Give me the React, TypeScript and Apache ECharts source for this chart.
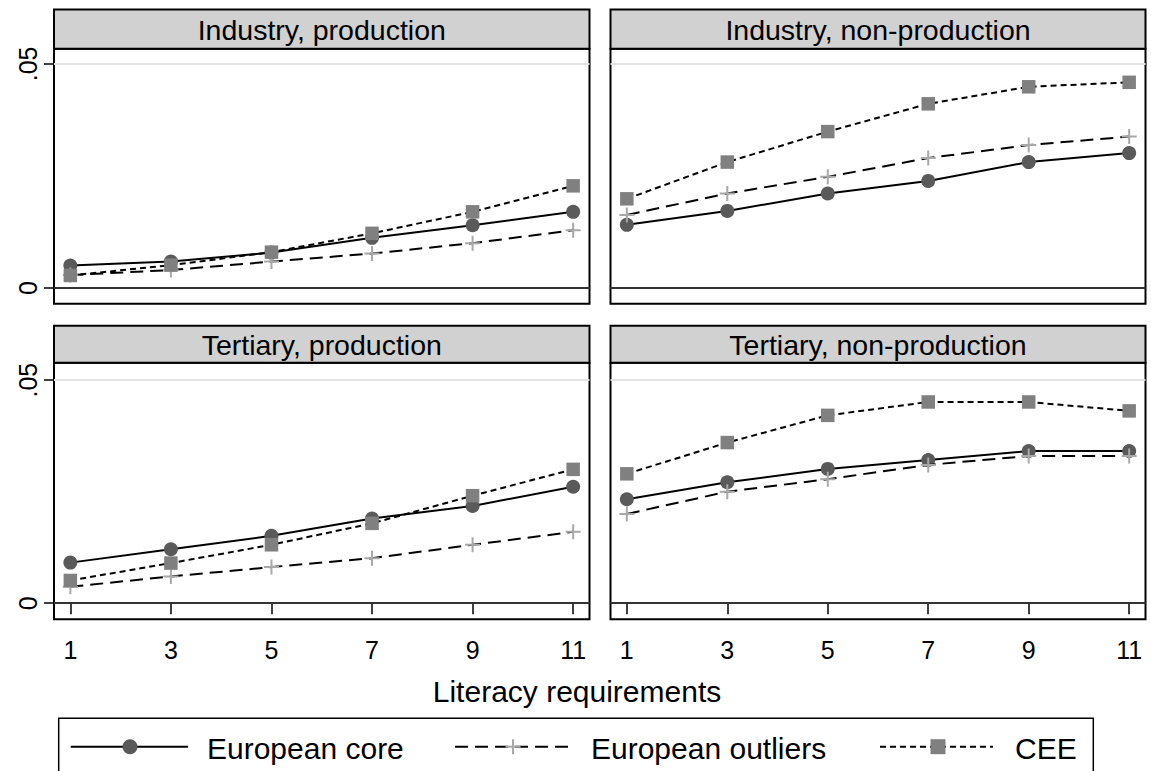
import React, { useEffect, useRef } from "react";
import * as echarts from "echarts";

// ---- data ----
const xValues = [1, 3, 5, 7, 9, 11];
const panelTitles = [
  "Industry, production",
  "Industry, non-production",
  "Tertiary, production",
  "Tertiary, non-production",
];
const seriesNames = ["European core", "European outliers", "CEE"];

const indProdCore = [0.005, 0.0059, 0.0079, 0.0112, 0.014, 0.017];
const indProdOutliers = [0.0029, 0.004, 0.0059, 0.0077, 0.01, 0.0129];
const indProdCEE = [0.0028, 0.0051, 0.008, 0.0122, 0.017, 0.0228];

const indNonCore = [0.0141, 0.0172, 0.0211, 0.0239, 0.0281, 0.0301];
const indNonOutliers = [0.0163, 0.0211, 0.0248, 0.029, 0.0319, 0.0338];
const indNonCEE = [0.0199, 0.0281, 0.0349, 0.0411, 0.0449, 0.0459];

const terProdCore = [0.0091, 0.0121, 0.0151, 0.019, 0.0218, 0.0261];
const terProdOutliers = [0.0037, 0.006, 0.0081, 0.0101, 0.0131, 0.016];
const terProdCEE = [0.0051, 0.009, 0.0131, 0.0179, 0.0241, 0.03];

const terNonCore = [0.0233, 0.0271, 0.0301, 0.0321, 0.0341, 0.0341];
const terNonOutliers = [0.02, 0.025, 0.0278, 0.031, 0.033, 0.033];
const terNonCEE = [0.029, 0.036, 0.0421, 0.0451, 0.0451, 0.0431];

const yTickValues = [0, 0.05];
const xAxisTitle = "Literacy requirements";

const panelData = [
  [indProdCore, indProdOutliers, indProdCEE],
  [indNonCore, indNonOutliers, indNonCEE],
  [terProdCore, terProdOutliers, terProdCEE],
  [terNonCore, terNonOutliers, terNonCEE],
];

const FONT = "'Liberation Sans', Arial, Helvetica, sans-serif";
const PLUS = "path://M6.5,0H8.5V6.5H15V8.5H8.5V15H6.5V8.5H0V6.5H6.5Z";

const seriesStyles = [
  { symbol: "circle", symbolSize: 14, color: "#5a5a5a", dash: "solid" as any },
  { symbol: PLUS, symbolSize: 15, color: "#a8a8a8", dash: [13, 7] as any },
  { symbol: "rect", symbolSize: 13.5, color: "#808080", dash: [6, 4] as any },
];

// layout
const gridsLayout = [
  { left: 54, top: 48.7, width: 535.5, height: 255, stripTop: 9.5 },
  { left: 610.5, top: 48.7, width: 535, height: 255, stripTop: 9.5 },
  { left: 54, top: 362.7, width: 535.5, height: 256.6, stripTop: 325.7 },
  { left: 610.5, top: 362.7, width: 535, height: 256.6, stripTop: 325.7 },
];

export default function App() {
  const ref = useRef<HTMLDivElement>(null);
  useEffect(() => {
    if (!ref.current) return;
    const chart = echarts.init(ref.current, undefined, { renderer: "svg" });

    const grid = gridsLayout.map((g) => ({
      left: g.left,
      top: g.top,
      width: g.width,
      height: g.height,
      show: true,
      borderColor: "#000",
      borderWidth: 2,
      backgroundColor: "#fff",
      containLabel: false,
    }));

    const xAxis = gridsLayout.map((g, i) => {
      const bottomRow = i >= 2;
      return {
        type: "value",
        gridIndex: i,
        min: 0.675,
        max: 11.325,
        axisLine: { show: false },
        splitLine: { show: false },
        axisTick: {
          show: bottomRow,
          customValues: xValues,
          length: 11,
          lineStyle: { color: "#000", width: 1.5 },
        },
        axisLabel: {
          show: bottomRow,
          customValues: xValues,
          margin: 18,
          fontSize: 25,
          color: "#000",
          fontFamily: FONT,
        },
      };
    });

    const yAxis = gridsLayout.map((g, i) => {
      const leftCol = i % 2 === 0;
      const top = i < 2;
      return {
        type: "value",
        gridIndex: i,
        min: top ? -0.0035 : -0.0036,
        max: top ? 0.0534 : 0.0539,
        axisLine: { show: false },
        splitLine: { show: false },
        axisTick: {
          show: leftCol,
          customValues: yTickValues,
          length: 10,
          lineStyle: { color: "#000", width: 1.5 },
        },
        axisLabel: {
          show: leftCol,
          customValues: yTickValues,
          rotate: 90,
          margin: 14,
          fontSize: 25,
          color: "#000",
          fontFamily: FONT,
          formatter: (v: number) => (v === 0 ? "0" : String(v).replace(/^0/, "")),
        },
      };
    });

    const series: any[] = [];
    panelData.forEach((panel, pi) => {
      panel.forEach((vals, si) => {
        const st = seriesStyles[si];
        const s: any = {
          type: "line",
          name: seriesNames[si],
          xAxisIndex: pi,
          yAxisIndex: pi,
          data: xValues.map((x, k) => [x, vals[k]]),
          symbol: st.symbol,
          symbolSize: st.symbolSize,
          showSymbol: true,
          itemStyle: { color: st.color, borderWidth: 0 },
          lineStyle: { color: "#000", width: 2, type: st.dash },
          z: 3 + si,
          silent: true,
        };
        if (si === 0) {
          s.markLine = {
            silent: true,
            symbol: ["none", "none"],
            label: { show: false },
            z: 1,
            data: [
              { yAxis: 0.05, lineStyle: { color: "#e3e3e3", width: 2, type: "solid" } },
              { yAxis: 0, lineStyle: { color: "#333", width: 2.2, type: "solid" } },
            ],
          };
        }
        series.push(s);
      });
    });

    const graphic: any[] = [];
    gridsLayout.forEach((g, i) => {
      const h = g.top - g.stripTop;
      graphic.push({
        type: "rect",
        shape: { x: g.left, y: g.stripTop, width: g.width, height: h },
        style: { fill: "#d1d1d1", stroke: "#000", lineWidth: 2 },
        silent: true,
      });
      graphic.push({
        type: "text",
        x: g.left + g.width / 2,
        y: g.stripTop + h / 2 + 0.5,
        style: {
          text: panelTitles[i],
          fill: "#000",
          font: `28.5px ${FONT}`,
          textAlign: "center",
          textVerticalAlign: "middle",
        },
        silent: true,
      });
    });

    // x axis title
    graphic.push({
      type: "text",
      x: 577,
      y: 691,
      style: {
        text: xAxisTitle,
        fill: "#000",
        font: `30px ${FONT}`,
        textAlign: "center",
        textVerticalAlign: "middle",
      },
      silent: true,
    });

    // legend
    const ly = 746.7;
    graphic.push({
      type: "rect",
      shape: { x: 58.7, y: 718.3, width: 1034.6, height: 80 },
      style: { fill: "#fff", stroke: "#000", lineWidth: 1.5 },
      silent: true,
    });
    const legendItems = [
      { x1: 70.7, x2: 188, mx: 130, tx: 207 },
      { x1: 455, x2: 572, mx: 513, tx: 591 },
      { x1: 880, x2: 993, mx: 938, tx: 1015 },
    ];
    legendItems.forEach((it, i) => {
      const st = seriesStyles[i];
      graphic.push({
        type: "line",
        shape: { x1: it.x1, y1: ly, x2: it.x2, y2: ly },
        style: {
          stroke: "#000",
          lineWidth: 2,
          lineDash: st.dash === "solid" ? null : st.dash,
        },
        silent: true,
      });
      if (i === 0) {
        graphic.push({
          type: "circle",
          shape: { cx: it.mx, cy: ly, r: 7.5 },
          style: { fill: st.color },
          silent: true,
        });
      } else if (i === 1) {
        graphic.push({
          type: "rect",
          shape: { x: it.mx - 7.5, y: ly - 1, width: 15, height: 2 },
          style: { fill: st.color },
          silent: true,
        });
        graphic.push({
          type: "rect",
          shape: { x: it.mx - 1, y: ly - 7.5, width: 2, height: 15 },
          style: { fill: st.color },
          silent: true,
        });
      } else {
        graphic.push({
          type: "rect",
          shape: { x: it.mx - 7.5, y: ly - 7.5, width: 15, height: 15 },
          style: { fill: st.color },
          silent: true,
        });
      }
      graphic.push({
        type: "text",
        x: it.tx,
        y: ly + 1.5,
        style: {
          text: seriesNames[i],
          fill: "#000",
          font: `30px ${FONT}`,
          textAlign: "left",
          textVerticalAlign: "middle",
        },
        silent: true,
      });
    });

    chart.setOption({
      animation: false,
      backgroundColor: "#fff",
      textStyle: { fontFamily: FONT },
      grid,
      xAxis,
      yAxis,
      series,
      graphic,
    });

    return () => {
      chart.dispose();
    };
  }, []);

  return (
    <div
      ref={ref}
      style={{ position: "fixed", left: 0, top: 0, width: 1151, height: 771, background: "#fff" }}
    />
  );
}
